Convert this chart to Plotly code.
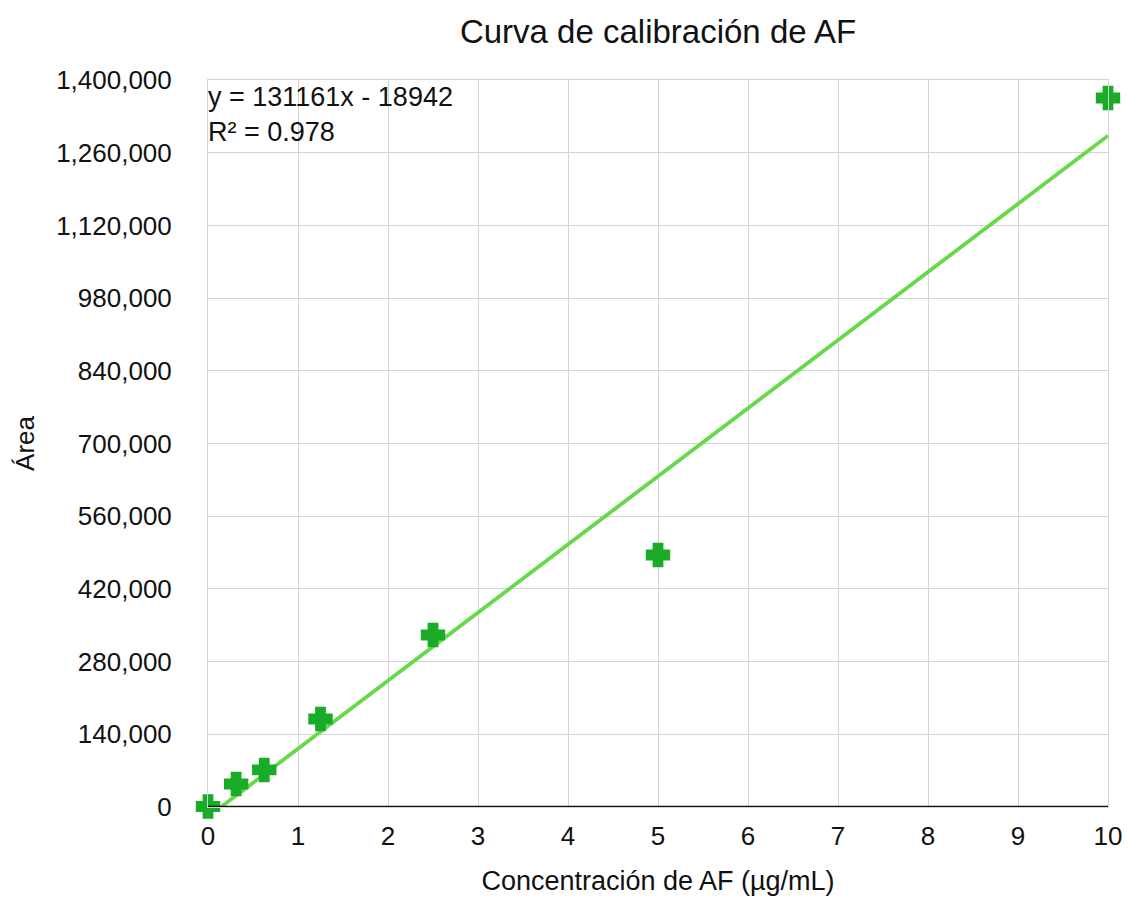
import plotly.graph_objects as go

# Data
conc = [0, 0.3125, 0.625, 1.25, 2.5, 5, 10]
area = [1000, 44300, 71300, 169500, 331200, 485300, 1365300]
slope = 131161
intercept = -18942
eq_lines = ["y = 131161x - 18942", "R² = 0.978"]
x_ticks = list(range(0, 11))
y_ticks = [0, 140000, 280000, 420000, 560000, 700000, 840000, 980000, 1120000, 1260000, 1400000]

trend_x = [0, 10]
trend_y = [slope * x + intercept for x in trend_x]

font = "Liberation Sans, Arial, Helvetica, sans-serif"
W, H = 1128, 900
L, R, T, B = 208, 20, 80, 93

fig = go.Figure()
fig.add_trace(go.Scatter(
    x=trend_x, y=trend_y, mode="lines",
    line=dict(color="#66d94a", width=3.8), hoverinfo="skip", showlegend=False,
))
fig.add_trace(go.Scatter(
    x=conc, y=area, mode="markers",
    marker=dict(symbol="cross", size=17, color="#1aab28",
                line=dict(color="#1aab28", width=4)),
    showlegend=False, cliponaxis=False,
))

fig.add_annotation(
    x=0, y=1400000, xref="x", yref="y", xanchor="left", yanchor="top",
    text="<br>".join(eq_lines), showarrow=False, align="left",
    font=dict(family=font, size=27, color="#111"), xshift=-2, yshift=0,
)

fig.update_layout(
    width=W, height=H,
    paper_bgcolor="white", plot_bgcolor="white",
    margin=dict(l=L, r=R, t=T, b=B, autoexpand=False),
    title=dict(text="Curva de calibración de AF", x=(L + W - R) / 2 / W, xanchor="center",
               y=1 - 31 / H, yanchor="middle",
               font=dict(family=font, size=33, color="#111")),
    font=dict(family=font, size=26, color="#111"),
)
fig.update_xaxes(
    range=[0, 10], tickvals=x_ticks, ticktext=[str(v) for v in x_ticks],
    showgrid=True, gridcolor="#d4d4d4", gridwidth=1.3,
    showline=True, linecolor="#d4d4d4", mirror=True,
    zeroline=False, ticks="", ticklabelstandoff=6, automargin=False,
    ticklabeloverflow="allow",
    title=dict(text="Concentración de AF (µg/mL)", standoff=20,
               font=dict(family=font, size=27)),
)
fig.update_yaxes(
    range=[0, 1400000], tickvals=y_ticks, tickformat=",d",
    showgrid=True, gridcolor="#d4d4d4", gridwidth=1.3,
    showline=True, linecolor="#d4d4d4", mirror=True,
    zeroline=False, ticks="", ticklabelstandoff=30, automargin=False,
    title=dict(text="Área", standoff=14, font=dict(family=font, size=26)),
)
fig.add_shape(type="line", xref="paper", yref="y", x0=0, x1=1, y0=0, y1=0,
              line=dict(color="#111", width=2.5))

fig.write_html("out.html", config={"displayModeBar": False},
               post_script="document.body.style.margin='0';")
